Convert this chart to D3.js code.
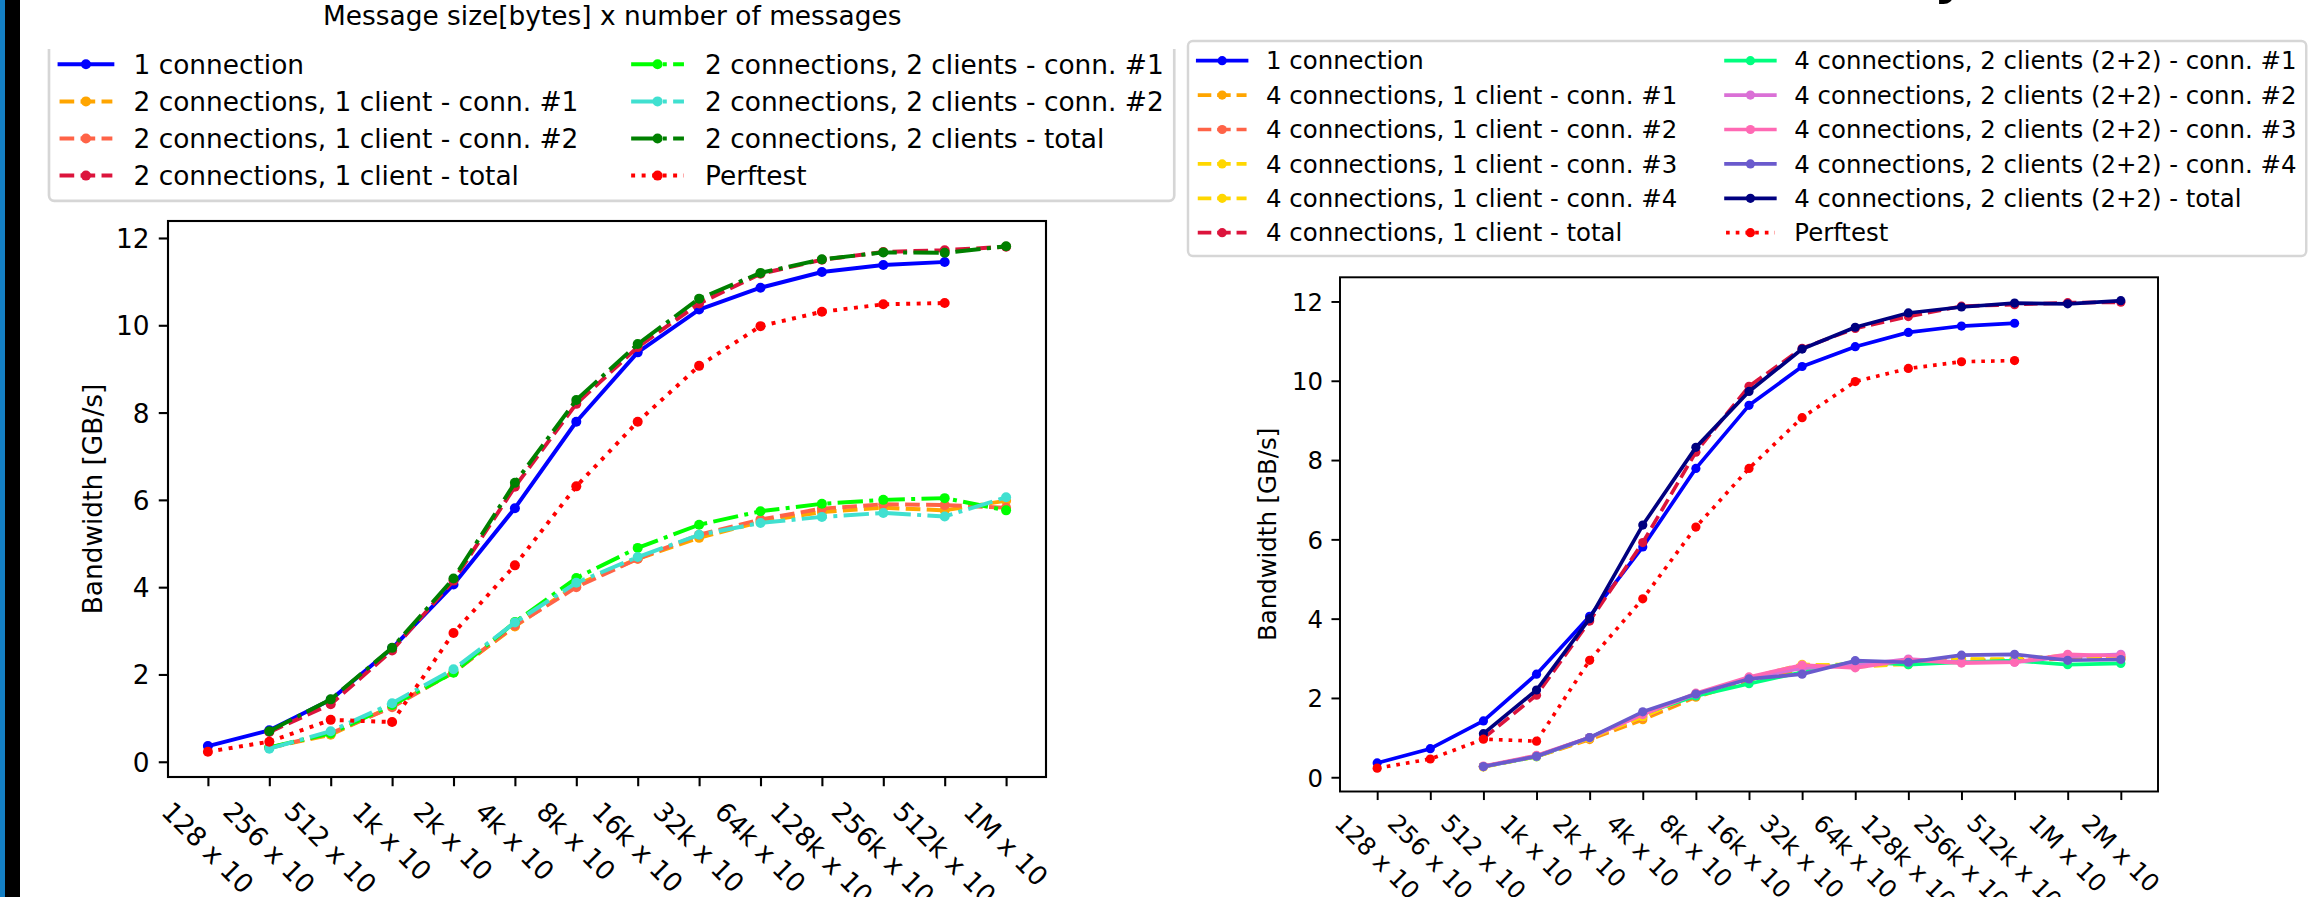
<!DOCTYPE html>
<html>
<head>
<meta charset="UTF-8">
<title>Bandwidth vs message size</title>
<style>
  body { margin: 0; background: #fff; }
  svg { display: block; font-family: "DejaVu Sans", sans-serif; }
</style>
</head>
<body>
<svg id="chart" width="2323" height="897"></svg>
<script src="https://cdn.jsdelivr.net/npm/d3@7"></script>
<script>
// ---- data ----
var sizesLeft = ["128 x 10", "256 x 10", "512 x 10", "1k x 10", "2k x 10", "4k x 10", "8k x 10",
  "16k x 10", "32k x 10", "64k x 10", "128k x 10", "256k x 10", "512k x 10", "1M x 10"];
var sizesRight = ["128 x 10", "256 x 10", "512 x 10", "1k x 10", "2k x 10", "4k x 10", "8k x 10",
  "16k x 10", "32k x 10", "64k x 10", "128k x 10", "256k x 10", "512k x 10", "1M x 10", "2M x 10"];
var yTicks = [0, 2, 4, 6, 8, 10, 12];

// shared by both panels
var oneConn  = [0.36, 0.72, 1.42, 2.60, 4.06, 5.81, 7.79, 9.38, 10.36, 10.86, 11.22, 11.38, 11.45];
var perftest = [0.23, 0.46, 0.96, 0.91, 2.95, 4.50, 6.31, 7.79, 9.07, 9.98, 10.31, 10.48, 10.51];

// left: 2 connections
var c2oneConn1  = [null, 0.32, 0.62, 1.27, 2.05, 3.10, 4.05, 4.65, 5.13, 5.50, 5.72, 5.82, 5.76, 5.98];
var c2oneConn2  = [null, 0.32, 0.65, 1.25, 2.05, 3.12, 4.00, 4.65, 5.20, 5.55, 5.80, 5.90, 5.88, 5.82];
var c2oneTotal  = [null, 0.68, 1.32, 2.55, 4.15, 6.30, 8.20, 9.50, 10.50, 11.18, 11.50, 11.68, 11.72, 11.80];
var c2twoConn1  = [null, 0.33, 0.65, 1.30, 2.04, 3.20, 4.21, 4.90, 5.43, 5.74, 5.91, 6.00, 6.04, 5.76];
var c2twoConn2  = [null, 0.30, 0.70, 1.34, 2.12, 3.19, 4.10, 4.69, 5.20, 5.47, 5.61, 5.70, 5.62, 6.06];
var c2twoTotal  = [null, 0.70, 1.43, 2.61, 4.20, 6.39, 8.29, 9.57, 10.61, 11.20, 11.51, 11.67, 11.66, 11.81];

// right: 4 connections
var c4oneConn1 = [null, null, 0.27, 0.52, 0.95, 1.45, 2.02, 2.42, 2.72, 2.85, 2.88, 2.95, 2.95, 3.05, 3.02];
var c4oneConn2 = [null, null, 0.27, 0.53, 0.97, 1.50, 2.05, 2.45, 2.78, 2.82, 2.92, 2.96, 2.92, 3.00, 3.04];
var c4oneConn3 = [null, null, 0.26, 0.52, 0.98, 1.52, 2.08, 2.50, 2.85, 2.78, 2.86, 2.98, 2.95, 3.08, 3.00];
var c4oneConn4 = [null, null, 0.27, 0.54, 0.99, 1.55, 2.10, 2.48, 2.82, 2.85, 2.84, 2.98, 2.98, 3.06, 2.97];
var c4oneTotal = [null, null, 0.98, 2.07, 3.94, 5.92, 8.20, 9.86, 10.82, 11.32, 11.62, 11.88, 11.92, 11.97, 11.98];
var c4twoConn1 = [null, null, 0.27, 0.52, 1.00, 1.60, 2.05, 2.36, 2.65, 2.92, 2.84, 2.90, 2.94, 2.84, 2.87];
var c4twoConn2 = [null, null, 0.27, 0.53, 1.00, 1.60, 2.10, 2.50, 2.75, 2.82, 2.98, 2.90, 2.90, 3.05, 3.10];
var c4twoConn3 = [null, null, 0.28, 0.55, 1.00, 1.58, 2.12, 2.53, 2.83, 2.76, 2.96, 2.88, 2.90, 3.10, 3.06];
var c4twoConn4 = [null, null, 0.27, 0.53, 1.00, 1.65, 2.10, 2.48, 2.60, 2.94, 2.90, 3.08, 3.10, 2.95, 2.97];
var c4twoTotal = [null, null, 1.10, 2.20, 4.00, 6.36, 8.32, 9.73, 10.80, 11.35, 11.71, 11.86, 11.96, 11.94, 12.02];

var leftSeries = [
  {name: "1 connection", values: oneConn, color: "blue", style: "solid"},
  {name: "2 connections, 1 client - conn. #1", values: c2oneConn1, color: "orange", style: "dashed"},
  {name: "2 connections, 1 client - conn. #2", values: c2oneConn2, color: "tomato", style: "dashed"},
  {name: "2 connections, 1 client - total", values: c2oneTotal, color: "crimson", style: "dashed"},
  {name: "2 connections, 2 clients - conn. #1", values: c2twoConn1, color: "lime", style: "dashdot"},
  {name: "2 connections, 2 clients - conn. #2", values: c2twoConn2, color: "turquoise", style: "dashdot"},
  {name: "2 connections, 2 clients - total", values: c2twoTotal, color: "green", style: "dashdot"},
  {name: "Perftest", values: perftest, color: "red", style: "dotted"}
];
var rightSeries = [
  {name: "1 connection", values: oneConn, color: "blue", style: "solid"},
  {name: "4 connections, 1 client - conn. #1", values: c4oneConn1, color: "orange", style: "dashed"},
  {name: "4 connections, 1 client - conn. #2", values: c4oneConn2, color: "tomato", style: "dashed"},
  {name: "4 connections, 1 client - conn. #3", values: c4oneConn3, color: "gold", style: "dashed"},
  {name: "4 connections, 1 client - conn. #4", values: c4oneConn4, color: "gold", style: "dashed"},
  {name: "4 connections, 1 client - total", values: c4oneTotal, color: "crimson", style: "dashed"},
  {name: "4 connections, 2 clients (2+2) - conn. #1", values: c4twoConn1, color: "springgreen", style: "solid"},
  {name: "4 connections, 2 clients (2+2) - conn. #2", values: c4twoConn2, color: "orchid", style: "solid"},
  {name: "4 connections, 2 clients (2+2) - conn. #3", values: c4twoConn3, color: "hotpink", style: "solid"},
  {name: "4 connections, 2 clients (2+2) - conn. #4", values: c4twoConn4, color: "slateblue", style: "solid"},
  {name: "4 connections, 2 clients (2+2) - total", values: c4twoTotal, color: "navy", style: "solid"},
  {name: "Perftest", values: perftest, color: "red", style: "dotted"}
];

// ---- drawing ----
var svg = d3.select("#chart");

// slide edge on the left
svg.append("rect").attr("x", 0).attr("y", 0).attr("width", 20).attr("height", 897).attr("fill", "#000");
svg.append("rect").attr("x", 0).attr("y", 0).attr("width", 5).attr("height", 897).attr("fill", "#147fc4");

// bit of the slide title cut off at the top
svg.append("text").attr("x", 1934).attr("y", -9).attr("font-size", 64).attr("fill", "#000").text("y");

svg.append("text")
  .attr("x", 323).attr("y", 25)
  .attr("font-size", 26.4)
  .text("Message size[bytes] x number of messages");

function dashFor(style, lw) {
  if (style == "dashed") return [3.7 * lw, 1.6 * lw].join(",");
  if (style == "dashdot") return [6.4 * lw, 1.6 * lw, 1 * lw, 1.6 * lw].join(",");
  if (style == "dotted") return [1 * lw, 1.65 * lw].join(",");
  return null;
}

var clipId = 0;

function drawPanel(p) {
  var g = svg.append("g");
  var n = p.labels.length;
  var fs = p.fs, pt = p.pt, lw = 1.5 * pt, tickLen = 3.5 * pt;

  var x = d3.scaleLinear().domain([-0.05 * (n - 1), 1.05 * (n - 1)]).range([p.left, p.right]);
  var all = [];
  p.series.forEach(function(s) { s.values.forEach(function(v) { if (v != null) all.push(v); }); });
  var lo = d3.min(all), hi = d3.max(all), m = (hi - lo) * 0.05;
  var y = d3.scaleLinear().domain([lo - m, hi + m]).range([p.bottom, p.top]);

  var cid = "clip" + (clipId++);
  g.append("clipPath").attr("id", cid).append("rect")
    .attr("x", p.left).attr("y", p.top)
    .attr("width", p.right - p.left).attr("height", p.bottom - p.top);

  var plot = g.append("g").attr("clip-path", "url(#" + cid + ")");
  var line = d3.line()
    .defined(function(d) { return d != null; })
    .x(function(d, i) { return x(i); })
    .y(function(d) { return y(d); });

  p.series.forEach(function(s) {
    var sg = plot.append("g");
    sg.append("path")
      .attr("d", line(s.values))
      .attr("fill", "none")
      .attr("stroke", s.color)
      .attr("stroke-width", lw)
      .attr("stroke-linejoin", "round")
      .attr("stroke-linecap", s.style == "solid" ? "square" : "butt")
      .attr("stroke-dasharray", dashFor(s.style, lw));
    sg.selectAll("circle")
      .data(s.values.map(function(v, i) { return {i: i, v: v}; }).filter(function(d) { return d.v != null; }))
      .enter().append("circle")
        .attr("cx", function(d) { return x(d.i); })
        .attr("cy", function(d) { return y(d.v); })
        .attr("r", p.r)
        .attr("fill", s.color);
  });

  // frame
  g.append("rect")
    .attr("x", p.left).attr("y", p.top)
    .attr("width", p.right - p.left).attr("height", p.bottom - p.top)
    .attr("fill", "none").attr("stroke", "#000").attr("stroke-width", 0.8 * pt);

  // y axis
  var ya = g.append("g")
    .attr("transform", "translate(" + p.left + ",0)")
    .call(d3.axisLeft(y).tickValues(yTicks).tickSize(tickLen).tickPadding(tickLen).tickFormat(d3.format("d")));
  ya.select(".domain").remove();
  ya.attr("font-size", fs).attr("font-family", "DejaVu Sans");
  ya.selectAll("line").attr("stroke-width", 0.8 * pt);
  ya.selectAll("text").attr("dy", "0.36em");

  // x axis, labels turned 45 degrees and centred under the tick
  var xa = g.append("g")
    .attr("transform", "translate(0," + p.bottom + ")")
    .call(d3.axisBottom(x).tickValues(d3.range(n)).tickSize(tickLen).tickFormat(function(i) { return p.labels[i]; }));
  xa.select(".domain").remove();
  xa.attr("font-size", fs).attr("font-family", "DejaVu Sans");
  xa.selectAll("line").attr("stroke-width", 0.8 * pt);
  var labelTop = p.bottom + tickLen + 3.5 * pt;
  xa.selectAll(".tick").each(function(i) {
    var t = d3.select(this).select("text")
      .attr("x", 0).attr("y", 0).attr("dy", null)
      .attr("text-anchor", "start")
      .attr("transform", "rotate(45)");
    var r = t.node().getBoundingClientRect();
    var dx = x(i) - (r.left + r.right) / 2;
    var dy = labelTop - r.top;
    t.attr("transform", "translate(" + dx + "," + dy + ") rotate(45)");
  });

  // y label
  g.append("text")
    .attr("transform", "translate(" + p.yLabelX + "," + (p.top + p.bottom) / 2 + ") rotate(-90)")
    .attr("text-anchor", "middle")
    .attr("dy", "0.36em")
    .attr("font-size", fs)
    .text("Bandwidth [GB/s]");

  drawLegend(p);
}

function drawLegend(p) {
  var fs = p.fs, pt = p.pt, lw = 1.5 * pt;
  var lg = p.legend;
  var rows = Math.ceil(p.series.length / 2);
  var cols = [p.series.slice(0, rows), p.series.slice(rows)];

  var g = svg.append("g");
  if (lg.clipTop != null) {
    var cid = "clip" + (clipId++);
    g.append("clipPath").attr("id", cid).append("rect")
      .attr("x", 0).attr("y", lg.clipTop).attr("width", 2323).attr("height", 897);
    g.attr("clip-path", "url(#" + cid + ")");
  }
  var frame = g.append("rect");
  var items = g.append("g");

  var cx = lg.x + 0.4 * fs;
  cols.forEach(function(col) {
    var maxW = 0;
    col.forEach(function(s, k) {
      var cy = lg.firstRow + k * lg.rowH;
      items.append("line")
        .attr("x1", cx).attr("x2", cx + 2 * fs)
        .attr("y1", cy).attr("y2", cy)
        .attr("stroke", s.color)
        .attr("stroke-width", lw)
        .attr("stroke-linecap", s.style == "solid" ? "square" : "butt")
        .attr("stroke-dasharray", dashFor(s.style, lw));
      items.append("circle")
        .attr("cx", cx + fs).attr("cy", cy).attr("r", p.r)
        .attr("fill", s.color);
      var t = items.append("text")
        .attr("x", cx + 2.8 * fs).attr("y", cy).attr("dy", "0.36em")
        .attr("font-size", fs)
        .text(s.name);
      maxW = Math.max(maxW, t.node().getComputedTextLength());
    });
    cx = cx + 2.8 * fs + maxW + 2 * fs;
  });
  var right = cx - 2 * fs + 0.4 * fs;
  var top = lg.firstRow - 0.81 * fs;
  var bottom = lg.firstRow + (rows - 1) * lg.rowH + 0.955 * fs;
  frame
    .attr("x", lg.x).attr("y", top)
    .attr("width", right - lg.x).attr("height", bottom - top)
    .attr("rx", 0.2 * fs)
    .attr("fill", "#fff").attr("fill-opacity", 0.8)
    .attr("stroke", "#cccccc").attr("stroke-opacity", 0.8)
    .attr("stroke-width", pt);
}

drawPanel({
  labels: sizesLeft, series: leftSeries,
  left: 168, right: 1046, top: 221, bottom: 777,
  fs: 26.4, pt: 2.64, r: 5, yLabelX: 92,
  legend: {x: 49, firstRow: 64.3, rowH: 37.1, clipTop: 49}
});

drawPanel({
  labels: sizesRight, series: rightSeries,
  left: 1340, right: 2158, top: 277.3, bottom: 791.5,
  fs: 24.4, pt: 2.44, r: 4.6, yLabelX: 1267,
  legend: {x: 1188, firstRow: 60.7, rowH: 34.4}
});
</script>
</body>
</html>
